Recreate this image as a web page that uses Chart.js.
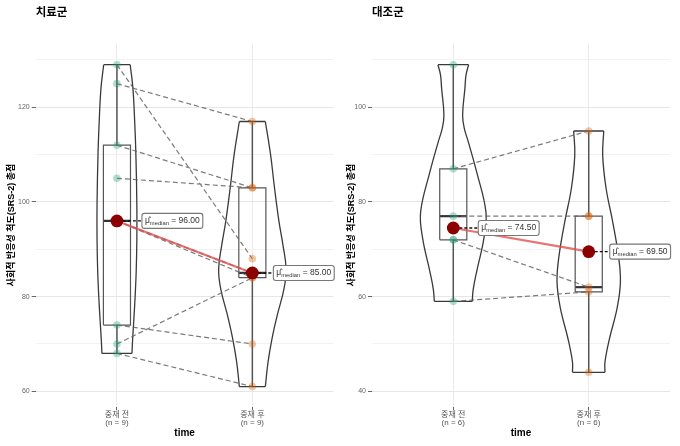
<!DOCTYPE html>
<html>
<head>
<meta charset="utf-8">
<script src="https://cdn.jsdelivr.net/npm/chart.js@4.4.1/dist/chart.umd.min.js"></script>
<style>
  html, body { margin: 0; padding: 0; background: #fff; }
  #wrap { display: flex; width: 680px; height: 446px; }
  canvas { display: block; }
</style>
</head>
<body>
<div id="wrap">
  <canvas id="tx" width="340" height="446"></canvas>
  <canvas id="ct" width="340" height="446"></canvas>
</div>
<script>
const groups = ['중재 전', '중재 후'];
const yTitle = '사회적 반응성 척도(SRS-2) 총점';

// 치료군
const txN = [9, 9];
const txPre = [129, 125, 112, 105, 96, 96, 74, 70, 68];
const txPost = [88, 117, 103, 103, 85, 84, 70, 84, 61];   // paired by index
const txLinked = [1, 1, 1, 1, 1, 1, 1, 1, 1];
const txBoxPre = [68, 74, 96, 112, 129];                     // min, q1, median, q3, max
const txBoxPost = [61, 84, 85, 103, 117];
const txMedian = [96.00, 85.00];
const txViolinPreY = [129, 124.0, 117.0, 109.9, 99.3, 92.3, 85.2, 78.2, 71.1, 68];
const txViolinPreW = [0.098, 0.118, 0.131, 0.140, 0.147, 0.147, 0.142, 0.131, 0.116, 0.111];
const txViolinPostY = [117, 109.9, 102.9, 95.8, 90.9, 85.9, 81.7, 76.1, 71.1, 66.2, 61];
const txViolinPostW = [0.096, 0.135, 0.164, 0.197, 0.226, 0.249, 0.234, 0.184, 0.145, 0.116, 0.096];
const txTicks = [60, 70, 80, 90, 100, 110, 120, 130];

// 대조군
const ctN = [6, 6];
const ctPre = [87, 77, 72, 59, 109, 72];
const ctPost = [95, 77, 62, 61, 44, 77];
const ctLinked = [1, 1, 1, 1, 0, 0];
const ctBoxPre = [59, 72, 77, 87, 109];
const ctBoxPost = [44, 61, 62, 77, 95];
const ctMedian = [74.50, 69.50];
const ctViolinPreY = [109, 106.8, 104.0, 98.4, 95.6, 92.7, 86.4, 77.9, 72.3, 65.2, 61.5, 59];
const ctViolinPreW = [0.113, 0.094, 0.086, 0.069, 0.081, 0.111, 0.172, 0.241, 0.226, 0.172, 0.147, 0.140];
const ctViolinPostY = [95, 89.9, 82.9, 75.8, 68.7, 63.1, 57.5, 51.1, 46.2, 44];
const ctViolinPostW = [0.111, 0.103, 0.128, 0.177, 0.219, 0.234, 0.209, 0.153, 0.120, 0.120];
const ctTicks = [40, 50, 60, 70, 80, 90, 100, 110];

Chart.defaults.font.family = "'Liberation Sans', 'Noto Sans CJK KR', sans-serif";

const medianLabels = {
  id: 'medianLabels',
  afterDatasetsDraw(chart, args, o) {
    const { ctx, scales: { x, y } } = chart;
    o.values.forEach((v, i) => {
      const px = x.getPixelForValue(i + 1), py = y.getPixelForValue(v);
      const bx = px + o.offsets[i];
      ctx.save();
      ctx.setLineDash([3, 2]);
      ctx.strokeStyle = '#111';
      ctx.lineWidth = 1.4;
      ctx.beginPath(); ctx.moveTo(px + 6, py); ctx.lineTo(bx, py); ctx.stroke();
      ctx.setLineDash([]);
      const big = "8.5px 'Liberation Sans', sans-serif", small = "5.8px 'Liberation Sans', sans-serif";
      const t1 = 'μ̂', t2 = 'median', t3 = ' = ' + v.toFixed(2);
      ctx.font = big;
      const w1 = ctx.measureText(t1).width, w3 = ctx.measureText(t3).width;
      ctx.font = small;
      const w2 = ctx.measureText(t2).width;
      const w = w1 + w2 + w3 + 6, h = 15;
      ctx.beginPath();
      ctx.roundRect(bx, py - h / 2, w, h, 2.5);
      ctx.fillStyle = '#fff'; ctx.fill();
      ctx.strokeStyle = '#777'; ctx.lineWidth = 1.1; ctx.stroke();
      ctx.fillStyle = '#333';
      ctx.textBaseline = 'middle';
      ctx.font = big; ctx.fillText(t1, bx + 3, py);
      ctx.font = small; ctx.fillText(t2, bx + 3 + w1, py + 2.5);
      ctx.font = big; ctx.fillText(t3, bx + 3 + w1 + w2, py);
      ctx.restore();
    });
  }
};

function panel(id, title, p) {
  const gap = { x: null, y: null };
  const ds = [];
  const line = (data, extra) => Object.assign({
    data, showLine: true, pointRadius: 0, borderColor: '#3a3a3a', borderWidth: 1.3,
    tension: 0, spanGaps: false
  }, extra);

  // violins
  [[1, p.vPreY, p.vPreW], [2, p.vPostY, p.vPostW]].forEach(([cx, ys, ws]) => {
    const L = ys.map((y, i) => ({ x: cx - ws[i], y }));
    const R = ys.map((y, i) => ({ x: cx + ws[i], y }));
    ds.push(line(L, { tension: 0.4, order: 6 }));
    ds.push(line(R, { tension: 0.4, order: 6 }));
    ds.push(line([L[0], R[0], gap, L[L.length - 1], R[R.length - 1]], { order: 6 }));
  });

  // boxes
  const bw = 0.1;
  [[1, p.boxPre], [2, p.boxPost]].forEach(([cx, b]) => {
    const [mn, q1, md, q3, mx] = b;
    ds.push(line([{ x: cx, y: mn }, { x: cx, y: q1 }, gap, { x: cx, y: q3 }, { x: cx, y: mx }],
      { borderColor: '#555', borderWidth: 1.5, order: 5 }));
    ds.push(line([{ x: cx - bw, y: q1 }, { x: cx + bw, y: q1 }, { x: cx + bw, y: q3 },
      { x: cx - bw, y: q3 }, { x: cx - bw, y: q1 }],
      { borderColor: '#555', borderWidth: 1.2, borderJoinStyle: 'miter', order: 5 }));
    ds.push(line([{ x: cx - bw, y: md }, { x: cx + bw, y: md }],
      { borderColor: '#333', borderWidth: 2.2, order: 5 }));
  });

  // paired lines
  const pairs = [];
  p.pre.forEach((v, i) => {
    if (p.linked[i]) pairs.push({ x: 1, y: v }, { x: 2, y: p.post[i] }, gap);
  });
  ds.push(line(pairs, { borderColor: 'rgba(100,100,100,0.85)', borderWidth: 1.2, borderDash: [5, 3], order: 4 }));

  // points
  ds.push({ data: p.pre.map(v => ({ x: 1, y: v })), pointRadius: 3.8, borderWidth: 0,
    backgroundColor: 'rgba(27,158,119,0.35)', order: 3 });
  ds.push({ data: p.post.map(v => ({ x: 2, y: v })), pointRadius: 3.8, borderWidth: 0,
    backgroundColor: 'rgba(217,95,2,0.35)', order: 3 });

  // median path
  ds.push(line([{ x: 1, y: p.median[0] }, { x: 2, y: p.median[1] }], {
    borderColor: 'rgba(226,80,80,0.8)', borderWidth: 2.2, pointRadius: 6.4,
    pointBackgroundColor: '#8b0000', pointBorderColor: '#8b0000', pointBorderWidth: 0, order: 1
  }));

  const isMajor = v => v % 20 === 0;

  new Chart(document.getElementById(id), {
    type: 'scatter',
    data: { datasets: ds },
    plugins: [medianLabels],
    options: {
      responsive: false,
      animation: false,
      events: [],
      layout: { padding: { left: 0, right: p.padRight, top: 0, bottom: 0 } },
      plugins: {
        legend: { display: false },
        tooltip: { enabled: false },
        title: {
          display: true, text: title, align: 'start', fullSize: false, color: '#000',
          font: { size: 11.5, weight: 'bold' }, padding: { top: 6, bottom: 23.2 }
        },
        medianLabels: { values: p.median, offsets: [25, 21] }
      },
      scales: {
        x: {
          type: 'linear', min: 0.4, max: 2.6,
          afterBuildTicks: s => { s.ticks = [{ value: 1 }, { value: 2 }]; },
          afterFit: s => { s.height = 39; },
          ticks: {
            callback: v => [groups[v - 1], `(n = ${p.n[v - 1]})`],
            font: { size: 8, lineHeight: 1.1 }, color: '#555', padding: 0,
            maxRotation: 0, autoSkip: false
          },
          grid: { color: '#ebebeb', tickLength: 3, tickColor: '#666' },
          border: { display: false },
          title: {
            display: true, text: 'time', color: '#000',
            font: { size: 10, weight: 'bold' }, padding: { top: 0, bottom: 6.7 }
          }
        },
        y: {
          min: p.yMin, max: p.yMax,
          afterBuildTicks: s => { s.ticks = p.ticks.map(v => ({ value: v })); },
          afterFit: s => { s.width = p.yWidth; },
          ticks: { callback: v => isMajor(v) ? v : '', font: { size: 7 }, color: '#666', padding: 2 },
          grid: {
            color: c => (c.tick && isMajor(c.tick.value)) ? '#e6e6e6' : '#f2f2f2',
            tickLength: 4,
            tickColor: c => (c.tick && isMajor(c.tick.value)) ? '#666' : 'rgba(0,0,0,0)'
          },
          border: { display: false },
          title: {
            display: true, text: yTitle, color: '#000',
            font: { size: 9, weight: 'bold' }, padding: { top: 6.6, bottom: 0 }
          }
        }
      }
    }
  });
}

panel('tx', '치료군', {
  n: txN, pre: txPre, post: txPost, linked: txLinked, boxPre: txBoxPre, boxPost: txBoxPost,
  median: txMedian, vPreY: txViolinPreY, vPreW: txViolinPreW, vPostY: txViolinPostY, vPostW: txViolinPostW,
  ticks: txTicks, yMin: 56.68, yMax: 133.59, yWidth: 35.7, padRight: 6
});

panel('ct', '대조군', {
  n: ctN, pre: ctPre, post: ctPost, linked: ctLinked, boxPre: ctBoxPre, boxPost: ctBoxPost,
  median: ctMedian, vPreY: ctViolinPreY, vPreW: ctViolinPreW, vPostY: ctViolinPostY, vPostW: ctViolinPostW,
  ticks: ctTicks, yMin: 36.68, yMax: 113.59, yWidth: 32, padRight: 10
});
</script>
</body>
</html>
